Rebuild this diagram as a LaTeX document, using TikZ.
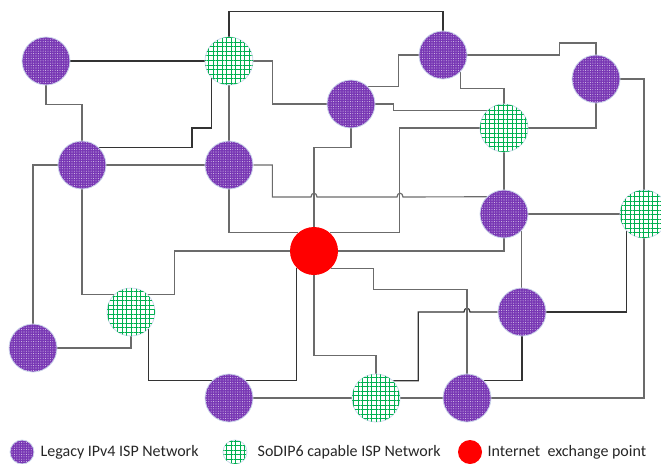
\documentclass[tikz,border=0pt]{standalone}
\usepackage{fontspec}
\setmainfont{Carlito}
\usetikzlibrary{positioning, patterns.meta, backgrounds}

\definecolor{ispviolet}{RGB}{120,55,180}
\definecolor{ispgreen}{RGB}{0,176,80}
\definecolor{ispring}{RGB}{205,218,236}
\definecolor{ixred}{RGB}{255,0,0}

\begin{document}
\begin{tikzpicture}[
    x=0.75pt, y=-0.75pt,
    isp/.style={
        circle,
        inner sep=0pt,
        minimum size=36pt,
        draw=ispring,
        line width=0.6pt
    },
    legacy/.style={
        isp,
        fill=ispviolet,
        postaction={pattern color=white!70!ispviolet, pattern={Dots[distance=1.8pt, radius=0.4pt]}}
    },
    sodip/.style={
        isp,
        fill=white,
        postaction={pattern color=ispgreen, pattern={Hatch[distance=3.4pt, line width=0.75pt]}}
    },
    ixp/.style={isp, fill=ixred, draw=none},
    key/.style={minimum size=18pt},
    keytext/.style={font=\fontsize{12}{14}\selectfont, text=black!85, inner sep=0pt},
    link/.style={draw=black!58, line width=0.85pt},
    darklink/.style={link, draw=black!80}
]
\useasboundingbox (0,0) rectangle (661,464);

% ISP networks
\node[legacy] (v1) at (46,61) {};
\node[sodip] (s1) at (229,61) {};
\node[legacy] (v2) at (82,165) {};
\node[legacy] (v3) at (229,165) {};
\node[legacy] (v4) at (443,55) {};
\node[legacy] (v5) at (351,104) {};
\node[sodip] (s2) at (504,128) {};
\node[legacy] (v6) at (596,79) {};
\node[legacy] (v7) at (504,214) {};
\node[sodip] (s3) at (644,214) {};
\node[ixp] (ix) at (314,251) {};
\node[sodip] (s4) at (131,312) {};
\node[legacy] (v8) at (33,348) {};
\node[legacy] (v9) at (229,398) {};
\node[sodip] (s5) at (376,398) {};
\node[legacy] (v10) at (467,398) {};
\node[legacy] (v11) at (522,312) {};

% links
\begin{scope}[on background layer]
\draw[darklink] (v1) -- (s1);
\draw[link] (v1.south) -- ++(0,19) -| (v2.north);
\draw[darklink] (v2.45) -| (192,128) -| (s1.-135);
\draw[darklink] (s1.north) -- ++(0,-25) -| (v4.north);
\draw[link] (s1.east) -- ++(19,0) |- (v5.west);
\draw[link] (s1) -- (v3);
\draw[link] (v2.west) -| (v8.north);
\draw[link] (v2) -- (v3);
\draw[link] (v2.south) |- (s4.135);
\draw[link] (v3.east) -- ++(19,0) -- ++(0,32) -- (311,197)
    .. controls (311,192) and (317,192) .. (317,197) -- (397,197)
    .. controls (397,192) and (403,192) .. (403,197) -- (v7.135);
\draw[link] (v3.south) |- (ix.131);
\draw[link] (v5.south) -- ++(0,19) -| (ix.north);
\draw[link] (v4.west) -- ++(-20,0) |- (v5.45);
\draw[link] (v4.east) -- ++(92,0) -- ++(0,-12) -| (v6.north);
\draw[link] (v4.-45) -- ++(0,16) -| (s2.north);
\draw[link] (v5.east) -- ++(18,0) |- (s2.135);
\draw[link] (s2.west) -- ++(-80,0) |- (ix.49);
\draw[link] (s2.east) -| (v6.south);
\draw[link] (s2) -- (v7);
\draw[link] (v6.east) -| (s3.north);
\draw[link] (v7) -- (s3);
\draw[link] (s4.45) -- ++(26,0) |- (ix.west);
\draw[link] (v8.east) -| (s4.south);
\draw[darklink] (s4.-45) -- ++(0,51) -| (ix.-135);
\draw[link] (v9) -- (s5);
\draw[link] (ix.south) -- ++(0,80) -| (s5.north);
\draw[link] (s5) -- (v10);
\draw[link] (v10.east) -| (s3.south);
\draw[darklink] (s5.45) -- ++(25,0) |- (464,312)
    .. controls (464,307) and (470,307) .. (470,312) -- (v11.west);
\draw[link] (ix.-45) -- ++(42,0) -- ++(0,21) -| (v10.north);
\draw[darklink] (v11.south) |- (v10.45);
\draw[link] (v7.-45) -- (v7.-45 |- v11.north);
\draw[link] (ix.east) -| (v7.south);
\draw[darklink] (s3.-135) |- (v11.east);
\end{scope}

% legend
\node[legacy, key] (keyv) at (22,452) {};
\node[keytext, right=4.5pt of keyv] (textv) {Legacy IPv4 ISP Network};
\node[sodip, key] (keys) at (235,452) {};
\node[keytext, right=7.5pt of keys] (texts) {SoDIP6 capable ISP Network};
\node[ixp, key] (keyx) at (470,452) {};
\node[keytext, right=3.75pt of keyx] (textx) {Internet~~exchange point};

\end{tikzpicture}
\end{document}
